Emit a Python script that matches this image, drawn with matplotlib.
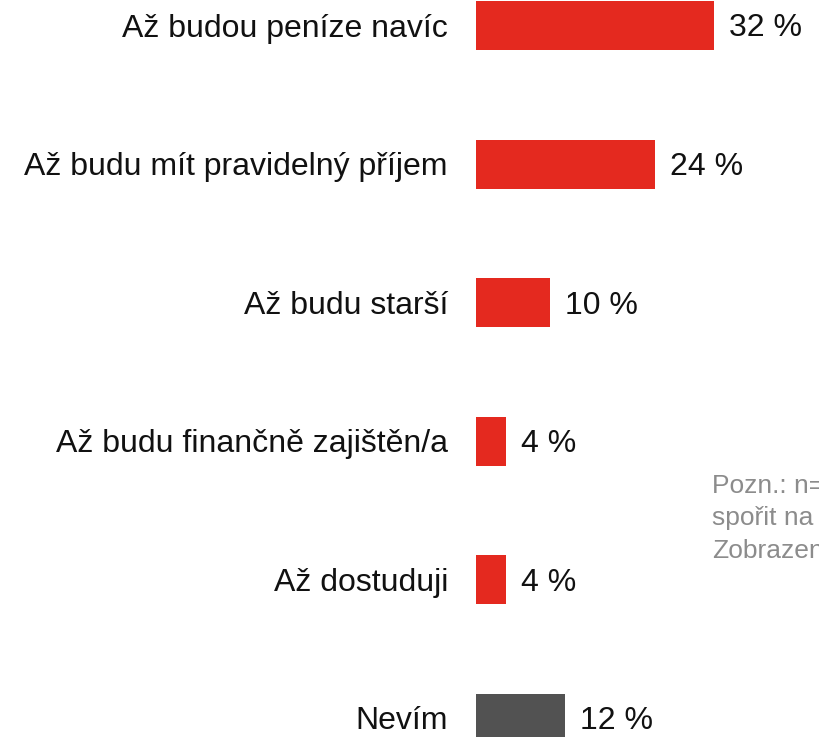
import matplotlib.pyplot as plt

categories = ['Až budou peníze navíc', 'Až budu mít pravidelný příjem', 'Až budu starší',
              'Až budu finančně zajištěn/a', 'Až dostuduji', 'Nevím']
values = [32, 24, 10, 4, 4, 12]
colors = ['#E4291F'] * 5 + ['#525252']
note_lines = ['Pozn.: n=', 'spořit na', 'Zobrazeno']

plt.rcParams['font.family'] = ['Liberation Sans', 'DejaVu Sans']

fig = plt.figure(figsize=(8.2, 7.37), dpi=100)
ax = fig.add_axes([0, 0, 1, 1])

px = 7.45          # pixels per percent
x0 = 476           # bar origin in pixels
step = 138.6       # row spacing in pixels
y0 = 25.5          # first row center in pixels
dy = 3 / step      # small downward nudge for text

pos = list(range(len(categories)))
ax.barh(pos, values, height=49 / step, color=colors)

ax.set_xlim(-x0 / px, (820 - x0) / px)
ax.set_ylim((737 - y0) / step, -y0 / step)

for p, v in zip(pos, values):
    ax.text(v + 15 / px, p + dy, f'{v} %', va='center', ha='left', fontsize=23, color='#111111')

for p, c in zip(pos, categories):
    ax.text(-28 / px, p + dy, c, va='center', ha='right', fontsize=23, color='#111111')

ax.set_xticks([])
ax.set_yticks([])
for s in ax.spines.values():
    s.set_visible(False)

for k, line in enumerate(note_lines):
    ax.text((712 - x0) / px, (486 + 32.5 * k - y0) / step, line, va='center', ha='left',
            fontsize=19, color='#8C8C8C')

fig.savefig('out.png', dpi=100)
